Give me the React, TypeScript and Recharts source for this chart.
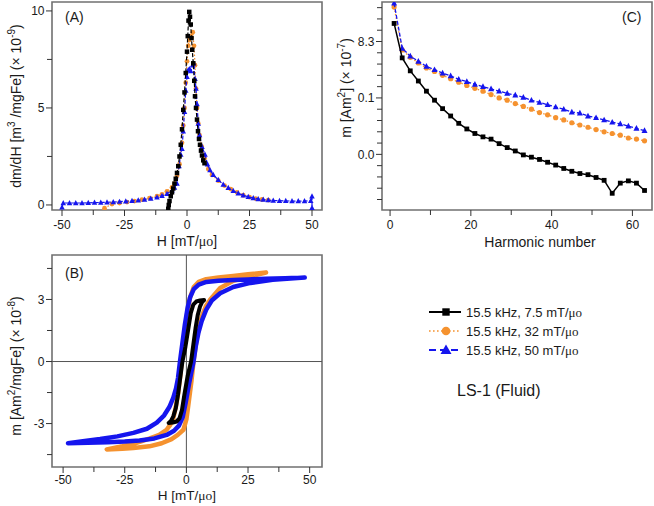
import React from 'react';
import { ScatterChart, Scatter, XAxis, YAxis, ReferenceLine, ReferenceArea } from 'recharts';

const SANS = '"Liberation Sans", Arial, Helvetica, sans-serif';
const SERIF = '"Liberation Serif", "Times New Roman", serif';
const C_BLACK = '#000000';
const C_ORANGE = '#F5922F';
const C_BLUE = '#1515EE';
const C_FRAME = '#707070';
const C_TEXT = '#1a1a1a';

type Pt = [number, number];

// ---------- Panel (A): dm/dH vs H ----------
const dmdhBlack: Pt[] = [
  [-7.5, -0.2], [-7.3, 0.0], [-7.0, 0.2], [-6.5, 0.45], [-6.0, 0.65], [-5.5, 0.85], [-5.0, 1.1],
  [-4.5, 1.35], [-4.0, 1.65], [-3.5, 2.0], [-3.0, 2.5], [-2.5, 3.1], [-2.0, 3.9], [-1.5, 4.9],
  [-1.0, 5.8], [-0.5, 6.8], [0.0, 7.9], [0.3, 8.7], [0.6, 9.5], [0.9, 9.95], [1.2, 9.7],
  [1.5, 9.3], [1.8, 8.6], [2.1, 8.0], [2.5, 7.3], [2.9, 6.4], [3.2, 5.6], [3.6, 5.0],
  [4.0, 4.4], [4.4, 3.8], [4.8, 3.4], [5.2, 3.1], [5.6, 2.8], [6.0, 2.55], [6.5, 2.3], [7.0, 2.15],
];
const dmdhOrange: Pt[] = [
  [-33, -0.17], [-30, 0.05], [-27, 0.1], [-24, 0.15], [-21, 0.2], [-18, 0.27], [-15, 0.35],
  [-12, 0.45], [-10, 0.55], [-8, 0.7], [-6, 0.9], [-5, 1.1], [-4, 1.5], [-3, 2.1], [-2, 3.2],
  [-1.5, 4.1], [-1, 5.0], [-0.5, 6.3], [0, 7.4], [0.5, 8.2], [0.9, 8.5], [1.5, 8.7], [2.3, 8.9],
  [2.8, 8.2], [3.2, 7.2], [3.6, 6.0], [4.0, 5.0], [4.5, 4.2], [5.0, 3.6], [5.9, 3.0], [7.0, 2.4],
  [8.5, 1.85], [10, 1.55], [12.5, 1.25], [15, 1.0], [17.5, 0.82], [20, 0.65], [22.5, 0.5],
  [25, 0.4], [27.5, 0.33], [30, 0.28], [32.5, 0.25],
];
const dmdhBlue: Pt[] = [
  [-50, -0.12], [-49.5, 0.1], [-47, 0.1], [-44.5, 0.1], [-42, 0.1], [-39.5, 0.11], [-37, 0.12],
  [-34.5, 0.13], [-32, 0.14], [-29.5, 0.15], [-27, 0.17], [-24.5, 0.19], [-22, 0.21], [-19.5, 0.24],
  [-17, 0.28], [-14.5, 0.33], [-12, 0.4], [-10, 0.47], [-8, 0.58], [-6, 0.75], [-5, 0.9], [-4, 1.1],
  [-3.2, 2.0], [-2.5, 2.6], [-2, 2.9], [-1.5, 3.8], [-1, 4.8], [-0.5, 5.9], [0, 6.6], [0.5, 6.95],
  [1, 7.0], [1.5, 6.9], [2.2, 7.2], [2.7, 7.3], [3.2, 6.5], [3.6, 6.0], [4, 5.2], [4.5, 4.2],
  [5, 3.6], [6, 3.0], [7.2, 2.6], [8.2, 2.1], [9.2, 1.8], [10.5, 1.55], [12.5, 1.3], [14.5, 1.05],
  [16.5, 0.88], [18.5, 0.73], [20.5, 0.6], [22.5, 0.5], [24.5, 0.42], [26.5, 0.36], [28.5, 0.31],
  [30.5, 0.28], [32.5, 0.25], [34.5, 0.23], [37, 0.22], [39.5, 0.21], [42, 0.2], [44.5, 0.2],
  [47, 0.2], [49.5, 0.22], [50, 0.45], [50, -0.15],
];
const aXTicks = [-50, -37.5, -25, -12.5, 0, 12.5, 25, 37.5, 50];
const aXLabeled = [-50, -25, 0, 25, 50];
const aYTicks = [0, 2.5, 5, 7.5, 10];
const aYLabeled = [0, 5, 10];

// ---------- Panel (B): hysteresis loops m vs H ----------
const loopBlack: Pt[] = [
  [7.2, 2.97], [5.5, 2.95], [4.0, 2.9], [2.8, 2.75], [1.8, 2.35], [0.8, 1.6], [-0.4, 0.7], [-1.6, 0],
  [-2.5, -0.8], [-3.4, -1.6], [-4.3, -2.25], [-5.3, -2.65], [-6.3, -2.88], [-7.2, -2.97],
  [-5.5, -2.95], [-4.0, -2.9], [-2.8, -2.75], [-1.8, -2.35], [-0.8, -1.6], [0.5, -0.7], [1.9, 0],
  [2.8, 0.8], [3.7, 1.6], [4.6, 2.25], [5.5, 2.65], [6.4, 2.88], [7.2, 2.97],
];
const loopOrange: Pt[] = [
  [32.3, 4.3], [25, 4.22], [19, 4.14], [13, 4.06], [8, 3.98], [5, 3.85], [3, 3.6], [1.5, 3.1],
  [0.3, 2.3], [-0.8, 1.2], [-1.9, 0], [-2.6, -0.8], [-3.3, -1.5], [-4.3, -2.2], [-5.3, -2.75],
  [-6.5, -3.05], [-8, -3.3], [-11, -3.55], [-14.8, -3.72], [-18, -3.85], [-21.5, -3.98], [-26, -4.1],
  [-32.3, -4.25], [-26, -4.22], [-21.5, -4.18], [-15, -4.1], [-10, -3.95], [-6, -3.75], [-3.5, -3.55],
  [-1.2, -3.3], [0, -2.8], [0.8, -2.1], [2.1, -0.9], [2.9, 0], [4.3, 1.2], [6.3, 2.2], [8, 2.7],
  [9.7, 3.0], [13.7, 3.55], [19, 3.9], [25.9, 4.12], [32.3, 4.3],
];
const loopBlue: Pt[] = [
  [48, 4.06], [40, 4.03], [32, 4.0], [25, 3.97], [19, 3.94], [13, 3.9], [8.1, 3.85], [5, 3.72],
  [3, 3.5], [1.5, 3.1], [0.5, 2.6], [-0.6, 1.8], [-1.6, 0.9], [-2.6, 0], [-3.4, -0.8], [-4.2, -1.3],
  [-5.3, -1.75], [-6.9, -2.2], [-9, -2.6], [-12, -2.95], [-16, -3.25], [-21.5, -3.45], [-28, -3.62],
  [-35, -3.75], [-42, -3.85], [-48, -3.95], [-40, -3.93], [-32, -3.9], [-25, -3.87], [-19, -3.82],
  [-13, -3.72], [-8, -3.55], [-5, -3.35], [-3, -3.1], [-1.5, -2.7], [-0.3, -2.0], [1.2, -1.0],
  [2.9, 0], [3.9, 0.8], [4.9, 1.4], [6.2, 1.95], [8.0, 2.5], [10.3, 2.95], [13.7, 3.3], [19, 3.6],
  [26, 3.8], [35, 3.95], [48, 4.06],
];
const bXTicks = [-50, -37.5, -25, -12.5, 0, 12.5, 25, 37.5, 50];
const bXLabeled = [-50, -25, 0, 25, 50];
const bYTicks = [-4.5, -3, -1.5, 0, 1.5, 3, 4.5];
const bYLabeled = [-3, 0, 3];

// ---------- Panel (C): harmonic amplitudes ----------
const harmonics = [1, 3, 5, 7, 9, 11, 13, 15, 17, 19, 21, 23, 25, 27, 29, 31, 33, 35, 37, 39, 41, 43, 45, 47, 49, 51, 53, 55, 57, 59, 61, 63];
const harmBlack = [0.232, 0.171, 0.148, 0.130, 0.112, 0.096, 0.081, 0.068, 0.055, 0.045, 0.037, 0.031, 0.027, 0.019, 0.012, 0.006,
  -0.001, -0.005, -0.009, -0.014, -0.019, -0.025, -0.030, -0.034, -0.036, -0.041, -0.046, -0.069, -0.051, -0.047, -0.051, -0.064];
const harmOrange = [0.261, 0.185, 0.172, 0.162, 0.153, 0.147, 0.140, 0.134, 0.128, 0.122, 0.117, 0.112, 0.106, 0.100, 0.096, 0.090,
  0.085, 0.080, 0.074, 0.070, 0.065, 0.061, 0.056, 0.052, 0.048, 0.044, 0.040, 0.037, 0.034, 0.029, 0.027, 0.024];
const harmBlue = [0.268, 0.188, 0.174, 0.165, 0.156, 0.150, 0.144, 0.139, 0.133, 0.129, 0.124, 0.120, 0.116, 0.112, 0.108, 0.105,
  0.101, 0.096, 0.092, 0.088, 0.084, 0.080, 0.075, 0.073, 0.068, 0.065, 0.061, 0.057, 0.054, 0.050, 0.046, 0.042];
const cXTicks = [0, 10, 20, 30, 40, 50, 60];
const cXLabeled = [0, 20, 40, 60];
const cYTicks = [-0.08, -0.06, -0.04, -0.02, 0, 0.02, 0.04, 0.06, 0.08, 0.1, 0.12, 0.14, 0.16, 0.18, 0.2, 0.22, 0.24, 0.26];
const cYTickValues = [0, 0.1, 0.2];
const cYTickTexts = ['0.0', '0.1', '8.3'];

const legendLabels = ['15.5 kHz, 7.5 mT/', '15.5 kHz, 32 mT/', '15.5 kHz, 50 mT/'];

const toXY = (pts: Pt[]) => pts.map(([x, y]) => ({ x, y }));
const zipXY = (xs: number[], ys: number[]) => xs.map((x, i) => ({ x, y: ys[i] }));

// ---------- tick renderers ----------
const makeXTick = (labeled: number[], labelDy: number) => (props: any) => {
  const { x, y, payload } = props;
  const major = labeled.includes(payload.value);
  return (
    <g>
      <line x1={x} x2={x} y1={y} y2={y + (major ? 6 : 5)} stroke="#333" strokeWidth={1} />
      {major && (
        <text x={x} y={y + labelDy} textAnchor="middle" fontSize={12} fontFamily={SANS} fill={C_TEXT}>
          {String(payload.value)}
        </text>
      )}
    </g>
  );
};
const makeYTick = (labeled: number[], fmt: (v: number) => string) => (props: any) => {
  const { x, y, payload } = props;
  const major = labeled.some((v) => Math.abs(v - payload.value) < 1e-9);
  return (
    <g>
      <line x1={x - (major ? 6 : 5)} x2={x} y1={y} y2={y} stroke="#333" strokeWidth={1} />
      {major && (
        <text x={x - 7.5} y={y} dy="0.36em" textAnchor="end" fontSize={12} fontFamily={SANS} fill={C_TEXT}>
          {fmt(payload.value)}
        </text>
      )}
    </g>
  );
};

// ---------- marker shapes ----------
const squareShape = (s: number, color: string) => (p: any) =>
  <rect x={p.cx - s / 2} y={p.cy - s / 2} width={s} height={s} fill={color} />;
const circleShape = (r: number, color: string) => (p: any) =>
  <circle cx={p.cx} cy={p.cy} r={r} fill={color} />;
const triShape = (s: number, color: string) => (p: any) =>
  <polygon points={`${p.cx},${p.cy - s * 0.55} ${p.cx - s / 2},${p.cy + s * 0.4} ${p.cx + s / 2},${p.cy + s * 0.4}`} fill={color} />;
const noShape = () => <g />;

const aX: [number, number] = [-54, 54];
const aY: [number, number] = [-0.26, 10.46];
const bX: [number, number] = [-54.5, 55];
const bY: [number, number] = [-5.1, 5.15];
const cX: [number, number] = [-2, 64.85];
const cY: [number, number] = [-0.0986, 0.27];

const Mu = () => <tspan fontFamily={SERIF}>μo</tspan>;

export default function App() {
  return (
    <div style={{ position: 'absolute', left: 0, top: 0, width: 654, height: 506, background: '#fff', fontFamily: SANS }}>
      {/* Panel A */}
      <div style={{ position: 'absolute', left: 0, top: 0 }}>
        <ScatterChart width={330} height={250} margin={{ top: 2, right: 8, bottom: 0, left: 0 }}>
          <XAxis type="number" dataKey="x" domain={aX} allowDataOverflow ticks={aXTicks} interval={0}
            tickSize={0} tickMargin={0} tickLine={false} axisLine={false} height={40} tick={makeXTick(aXLabeled, 19)} />
          <YAxis type="number" dataKey="y" domain={aY} allowDataOverflow ticks={aYTicks} interval={0}
            tickSize={0} tickMargin={0} tickLine={false} axisLine={false} width={52} tick={makeYTick(aYLabeled, (v) => String(v))} />
          <Scatter data={toXY(dmdhOrange)} fill={C_ORANGE} isAnimationActive={false} shape={circleShape(2.4, C_ORANGE)}
            line={{ stroke: C_ORANGE, strokeWidth: 1.2, strokeDasharray: '1.5 2' }} lineJointType="linear" />
          <Scatter data={toXY(dmdhBlue)} fill={C_BLUE} isAnimationActive={false} shape={triShape(5.5, C_BLUE)}
            line={{ stroke: C_BLUE, strokeWidth: 1.2, strokeDasharray: '4 2' }} lineJointType="linear" />
          <Scatter data={toXY(dmdhBlack)} fill={C_BLACK} isAnimationActive={false} shape={squareShape(4.5, C_BLACK)}
            line={{ stroke: C_BLACK, strokeWidth: 1.2, strokeDasharray: '4 2' }} lineJointType="linear" />
          <ReferenceArea x1={aX[0]} x2={aX[1]} y1={aY[0]} y2={aY[1]} fill="none" fillOpacity={0}
            stroke={C_FRAME} strokeWidth={1.6} ifOverflow="visible" />
        </ScatterChart>
      </div>

      {/* Panel B */}
      <div style={{ position: 'absolute', left: 0, top: 250 }}>
        <ScatterChart width={330} height={256} margin={{ top: 5, right: 8, bottom: 0, left: 0 }}>
          <XAxis type="number" dataKey="x" domain={bX} allowDataOverflow ticks={bXTicks} interval={0}
            tickSize={0} tickMargin={0} tickLine={false} axisLine={false} height={39} tick={makeXTick(bXLabeled, 17)} />
          <YAxis type="number" dataKey="y" domain={bY} allowDataOverflow ticks={bYTicks} interval={0}
            tickSize={0} tickMargin={0} tickLine={false} axisLine={false} width={52} tick={makeYTick(bYLabeled, (v) => String(v))} />
          <ReferenceLine x={0} stroke="#555" strokeWidth={1} />
          <ReferenceLine y={0} stroke="#555" strokeWidth={1} />
          <Scatter data={toXY(loopOrange)} fill={C_ORANGE} isAnimationActive={false} shape={noShape}
            line={{ stroke: C_ORANGE, strokeWidth: 4.5, strokeLinejoin: 'round', strokeLinecap: 'round' }} lineJointType="linear" />
          <Scatter data={toXY(loopBlue)} fill={C_BLUE} isAnimationActive={false} shape={noShape}
            line={{ stroke: C_BLUE, strokeWidth: 4.5, strokeLinejoin: 'round', strokeLinecap: 'round' }} lineJointType="linear" />
          <Scatter data={toXY(loopBlack)} fill={C_BLACK} isAnimationActive={false} shape={noShape}
            line={{ stroke: C_BLACK, strokeWidth: 4, strokeLinejoin: 'round', strokeLinecap: 'round' }} lineJointType="linear" />
          <ReferenceArea x1={bX[0]} x2={bX[1]} y1={bY[0]} y2={bY[1]} fill="none" fillOpacity={0}
            stroke={C_FRAME} strokeWidth={1.6} ifOverflow="visible" />
        </ScatterChart>
      </div>

      {/* Panel C */}
      <div style={{ position: 'absolute', left: 330, top: 0 }}>
        <ScatterChart width={324} height={250} margin={{ top: 2, right: 2, bottom: 0, left: 0 }}>
          <XAxis type="number" dataKey="x" domain={cX} allowDataOverflow ticks={cXTicks} interval={0}
            tickSize={0} tickMargin={0} tickLine={false} axisLine={false} height={40} tick={makeXTick(cXLabeled, 19)} />
          <YAxis type="number" dataKey="y" domain={cY} allowDataOverflow ticks={cYTicks} interval={0}
            tickSize={0} tickMargin={0} tickLine={false} axisLine={false} width={52}
            tick={makeYTick(cYTickValues, (v) => cYTickTexts[cYTickValues.findIndex((t) => Math.abs(t - v) < 1e-9)])} />
          <Scatter data={zipXY(harmonics, harmOrange)} fill={C_ORANGE} isAnimationActive={false} shape={circleShape(2.6, C_ORANGE)}
            line={{ stroke: C_ORANGE, strokeWidth: 1.3, strokeDasharray: '1.5 2' }} lineJointType="linear" />
          <Scatter data={zipXY(harmonics, harmBlue)} fill={C_BLUE} isAnimationActive={false} shape={triShape(6, C_BLUE)}
            line={{ stroke: C_BLUE, strokeWidth: 1.3, strokeDasharray: '4 2' }} lineJointType="linear" />
          <Scatter data={zipXY(harmonics, harmBlack)} fill={C_BLACK} isAnimationActive={false} shape={squareShape(4.8, C_BLACK)}
            line={{ stroke: C_BLACK, strokeWidth: 1.5 }} lineJointType="linear" />
          <ReferenceArea x1={cX[0]} x2={cX[1]} y1={cY[0]} y2={cY[1]} fill="none" fillOpacity={0}
            stroke={C_FRAME} strokeWidth={1.6} ifOverflow="visible" />
        </ScatterChart>
      </div>

      {/* Titles, axis labels, legend */}
      <svg width={654} height={506} style={{ position: 'absolute', left: 0, top: 0, pointerEvents: 'none' }}
        fontFamily={SANS} fill={C_TEXT}>
        <text x={65} y={22} fontSize={14}>(A)</text>
        <text x={65} y={278} fontSize={14}>(B)</text>
        <text x={622} y={22} fontSize={14}>(C)</text>

        <text x={187} y={246} fontSize={14} textAnchor="middle">H [mT/<Mu />]</text>
        <text x={187} y={500} fontSize={13.5} textAnchor="middle">H [mT/<Mu />]</text>
        <text x={540} y={247} fontSize={14} textAnchor="middle">Harmonic number</text>

        <text transform="translate(21,106) rotate(-90)" fontSize={14} textAnchor="middle">
          dm/dH [m<tspan dy={-6} fontSize={10}>3</tspan><tspan dy={6}> /mgFe] (× 10</tspan>
          <tspan dy={-6} fontSize={10}>-9</tspan><tspan dy={6}>)</tspan>
        </text>
        <text transform="translate(21,366) rotate(-90)" fontSize={14} textAnchor="middle">
          m [Am<tspan dy={-6} fontSize={10}>2</tspan><tspan dy={6}>/mgFe] (× 10</tspan>
          <tspan dy={-6} fontSize={10}>-8</tspan><tspan dy={6}>)</tspan>
        </text>
        <text transform="translate(351,88) rotate(-90)" fontSize={14} textAnchor="middle">
          m [Am<tspan dy={-6} fontSize={10}>2</tspan><tspan dy={6}>] (× 10</tspan>
          <tspan dy={-6} fontSize={10}>-7</tspan><tspan dy={6}>)</tspan>
        </text>

        {/* legend */}
        <line x1={429} x2={461} y1={312} y2={312} stroke={C_BLACK} strokeWidth={2} />
        <rect x={442.3} y={308.3} width={7.4} height={7.4} fill={C_BLACK} />
        <text x={466} y={316.5} fontSize={13}>{legendLabels[0]}<Mu /></text>

        <line x1={429} x2={461} y1={331} y2={331} stroke={C_ORANGE} strokeWidth={1.6} strokeDasharray="1.6 2.4" />
        <circle cx={446} cy={331} r={4.3} fill={C_ORANGE} />
        <text x={466} y={335.5} fontSize={13}>{legendLabels[1]}<Mu /></text>

        <line x1={429} x2={461} y1={350} y2={350} stroke={C_BLUE} strokeWidth={2} strokeDasharray="7 4" />
        <polygon points="446,344.5 440.5,354 451.5,354" fill={C_BLUE} />
        <text x={466} y={354.5} fontSize={13}>{legendLabels[2]}<Mu /></text>

        <text x={457} y={396} fontSize={16}>LS-1 (Fluid)</text>
      </svg>
    </div>
  );
}
